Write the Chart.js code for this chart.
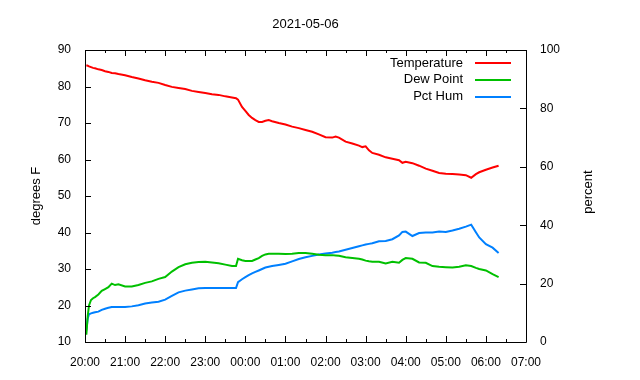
<!DOCTYPE html>
<html>
<head>
<meta charset="utf-8">
<script src="https://cdn.jsdelivr.net/npm/chart.js@4"></script>
<style>
  html, body { margin: 0; padding: 0; background: #fff; }
  #wrap { width: 640px; height: 380px; }
</style>
</head>
<body>
<div id="wrap"><canvas id="c" width="640" height="380"></canvas></div>
<script>
// ---- data ----
const chartTitle = "2021-05-06";
const times = ["20:02","20:04","20:06","20:09","20:12","20:15","20:20","20:25","20:30","20:35","20:40","20:45","20:50",
  "21:00","21:10","21:20","21:30","21:40","21:50","22:00","22:10","22:20","22:30","22:40","22:50","23:00","23:10","23:20","23:30","23:40",
  "23:46","23:49","23:55","00:00","00:05","00:10","00:15","00:20","00:25","00:30","00:35","00:40","00:50","01:00","01:10","01:20","01:30",
  "01:40","01:50","02:00","02:10","02:15","02:20","02:30","02:40","02:50","02:55","03:00","03:05","03:10","03:20","03:30","03:40","03:50",
  "03:55","04:00","04:10","04:20","04:30","04:40","04:50","05:00","05:10","05:20","05:30","05:38","05:45","05:50","06:00","06:10","06:19"];
const temperature = [85.8,85.7,85.5,85.3,85.1,85.0,84.7,84.5,84.2,84.0,83.7,83.6,83.4,
  83.1,82.6,82.2,81.7,81.3,81.0,80.4,79.9,79.6,79.3,78.8,78.5,78.2,77.9,77.7,77.3,77.0,
  76.8,76.4,74.4,73.3,72.2,71.4,70.8,70.3,70.3,70.6,70.8,70.5,70.0,69.6,69.0,68.6,68.1,
  67.6,66.9,66.1,66.0,66.3,66.0,64.9,64.4,63.8,63.4,63.6,62.5,61.8,61.3,60.6,60.2,59.8,
  59.1,59.4,59.0,58.3,57.5,56.9,56.3,56.1,56.0,55.9,55.7,55.0,56.0,56.5,57.2,57.8,58.3];
const dewPoint = [12.0,17.0,20.0,21.5,22.0,22.3,23.0,24.0,24.5,25.0,26.0,25.6,25.8,
  25.2,25.2,25.6,26.2,26.6,27.3,27.8,29.3,30.5,31.3,31.7,31.9,32.0,31.8,31.6,31.2,30.8,
  30.8,32.8,32.4,32.2,32.2,32.2,32.6,33.0,33.6,34.0,34.2,34.2,34.2,34.1,34.2,34.4,34.4,
  34.2,33.9,33.8,33.8,33.7,33.6,33.2,33.0,32.8,32.6,32.3,32.1,32.0,32.0,31.5,32.0,31.7,
  32.5,33.0,32.8,31.8,31.7,30.8,30.6,30.5,30.4,30.6,31.0,30.8,30.3,30.0,29.6,28.6,27.8];
const pctHum = [4.0,8.0,9.5,9.8,10.0,10.2,10.4,11.0,11.4,11.7,12.0,12.0,12.0,
  12.0,12.2,12.6,13.2,13.5,13.8,14.5,15.8,17.0,17.6,18.0,18.4,18.5,18.5,18.5,18.5,18.5,
  18.5,20.5,21.5,22.2,22.9,23.5,24.0,24.5,25.0,25.5,25.8,26.0,26.4,26.8,27.6,28.4,29.0,
  29.5,30.0,30.3,30.6,30.8,31.0,31.6,32.2,32.8,33.1,33.4,33.6,33.8,34.5,34.6,35.2,36.5,
  37.7,37.8,36.3,37.3,37.5,37.5,37.8,37.7,38.2,38.8,39.5,40.2,37.6,35.8,33.5,32.3,30.5];
const seriesNames = ["Temperature", "Dew Point", "Pct Hum"];
const xTickLabels = ["20:00","21:00","22:00","23:00","00:00","01:00","02:00","03:00","04:00","05:00","06:00","07:00"];
const leftTicks = [10,20,30,40,50,60,70,80,90];
const rightTicks = [0,20,40,60,80,100];
const leftTitle = "degrees F";
const rightTitle = "percent";

// minutes since 20:00
function toMin(t) {
  let [h, m] = t.split(":").map(Number);
  if (h < 20) h += 24;
  return (h - 20) * 60 + m;
}
const xs = times.map(toMin);
const pts = arr => arr.map((v, i) => ({ x: xs[i], y: v }));

const FONT = "'Liberation Sans', Arial, sans-serif";

const frame = {
  id: 'frame',
  afterDraw(chart) {
    const { ctx, chartArea: a, scales } = chart;
    ctx.save();
    ctx.strokeStyle = '#000';
    ctx.lineWidth = 1;
    ctx.beginPath();
    ctx.rect(Math.round(a.left) + 0.5, Math.round(a.top) + 0.5, Math.round(a.right - a.left), Math.round(a.bottom - a.top));
    ctx.stroke();
    ctx.beginPath();
    // x ticks (major every 60, minor every 30), inward
    for (let m = 0; m <= 660; m += 30) {
      const px = Math.round(scales.x.getPixelForValue(m)) + 0.5;
      const len = (m % 60 === 0) ? 6 : 3;
      ctx.moveTo(px, a.bottom); ctx.lineTo(px, a.bottom - len);
      ctx.moveTo(px, a.top); ctx.lineTo(px, a.top + len);
    }
    leftTicks.forEach(v => {
      const py = Math.round(scales.y.getPixelForValue(v)) + 0.5;
      ctx.moveTo(a.left, py); ctx.lineTo(a.left + 6, py);
    });
    rightTicks.forEach(v => {
      const py = Math.round(scales.y2.getPixelForValue(v)) + 0.5;
      ctx.moveTo(a.right, py); ctx.lineTo(a.right - 6, py);
    });
    ctx.stroke();

    // axis titles (both read bottom-to-top)
    ctx.fillStyle = '#000';
    ctx.font = "13px " + FONT;
    ctx.textAlign = 'center';
    ctx.textBaseline = 'middle';
    const cy = (a.top + a.bottom) / 2;
    ctx.save(); ctx.translate(36, cy); ctx.rotate(-Math.PI / 2); ctx.fillText(leftTitle, 0, 0); ctx.restore();
    ctx.save(); ctx.translate(588, cy - 4); ctx.rotate(-Math.PI / 2); ctx.fillText(rightTitle, 0, 0); ctx.restore();

    // legend: text right-aligned, sample line to the right
    ctx.textAlign = 'right';
    chart.data.datasets.forEach((ds, i) => {
      const y = a.top + 13 + i * 16.8;
      ctx.fillStyle = '#000';
      ctx.fillText(ds.label, 463, y);
      ctx.strokeStyle = ds.borderColor;
      ctx.lineWidth = 2;
      ctx.beginPath();
      ctx.moveTo(475, Math.round(y)); ctx.lineTo(511, Math.round(y));
      ctx.stroke();
    });
    ctx.restore();
  }
};

new Chart(document.getElementById('c'), {
  type: 'line',
  data: {
    datasets: [
      { label: seriesNames[0], data: pts(temperature), borderColor: '#ff0000', yAxisID: 'y' },
      { label: seriesNames[1], data: pts(dewPoint), borderColor: '#00c000', yAxisID: 'y' },
      { label: seriesNames[2], data: pts(pctHum), borderColor: '#0080ff', yAxisID: 'y2' }
    ]
  },
  options: {
    responsive: false,
    animation: false,
    devicePixelRatio: 1,
    parsing: false,
    elements: { point: { radius: 0 }, line: { borderWidth: 2, tension: 0, fill: false } },
    layout: { padding: 0 },
    plugins: {
      legend: { display: false },
      tooltip: { enabled: false },
      title: {
        display: true, text: chartTitle, fullSize: false, color: '#000',
        font: { family: FONT, size: 13, weight: 'normal' },
        padding: { top: 17, bottom: 17.4 }
      }
    },
    scales: {
      x: {
        type: 'linear', min: 0, max: 660,
        grid: { display: false, drawTicks: false },
        border: { display: false },
        afterFit: s => { s.height = 38; },
        afterBuildTicks: s => { s.ticks = xTickLabels.map((t, i) => ({ value: i * 60 })); },
        ticks: {
          color: '#000', font: { family: FONT, size: 12 }, padding: 13, maxRotation: 0, autoSkip: false,
          callback: (v, i) => xTickLabels[i]
        }
      },
      y: {
        position: 'left', min: 10, max: 90,
        grid: { display: false, drawTicks: false },
        border: { display: false },
        afterFit: s => { s.width = 85; },
        afterBuildTicks: s => { s.ticks = leftTicks.map(v => ({ value: v })); },
        ticks: { color: '#000', font: { family: FONT, size: 12 }, padding: 14 }
      },
      y2: {
        position: 'right', min: 0, max: 100,
        grid: { display: false, drawTicks: false },
        border: { display: false },
        afterFit: s => { s.width = 114; },
        afterBuildTicks: s => { s.ticks = rightTicks.map(v => ({ value: v })); },
        ticks: { color: '#000', font: { family: FONT, size: 12 }, padding: 14 }
      }
    }
  },
  plugins: [frame]
});
</script>
</body>
</html>
